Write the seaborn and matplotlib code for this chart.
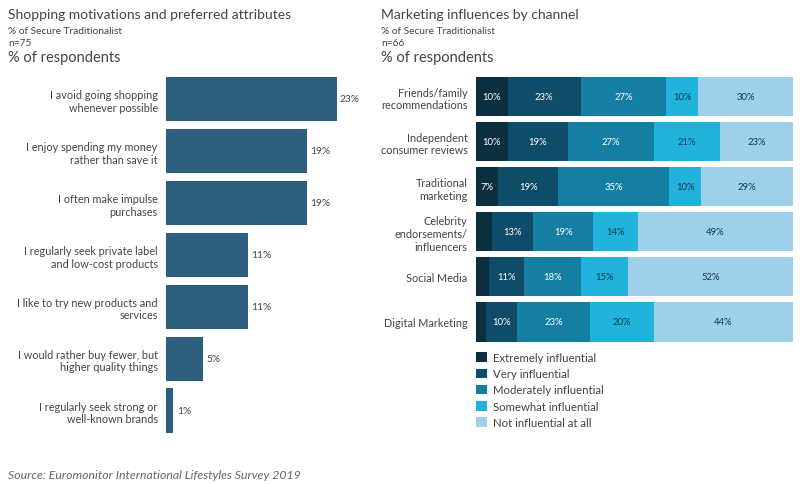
import matplotlib
matplotlib.use("Agg")
import matplotlib.pyplot as plt
from matplotlib.patches import Patch
import numpy as np
import pandas as pd
import seaborn as sns

sns.set_theme(style="white")
plt.rcParams["font.family"] = ["Lato", "DejaVu Sans"]

# ---- Left panel data: shopping motivations ----
motivations = [
    "I avoid going shopping\nwhenever possible",
    "I enjoy spending my money\nrather than save it",
    "I often make impulse\npurchases",
    "I regularly seek private label\nand low-cost products",
    "I like to try new products and\nservices",
    "I would rather buy fewer, but\nhigher quality things",
    "I regularly seek strong or\nwell-known brands",
]
motivation_pct = [23, 19, 19, 11, 11, 5, 1]

# ---- Right panel data: marketing influences by channel ----
channels = [
    "Friends/family\nrecommendations",
    "Independent\nconsumer reviews",
    "Traditional\nmarketing",
    "Celebrity\nendorsements/\ninfluencers",
    "Social Media",
    "Digital Marketing",
]
levels = [
    "Extremely influential",
    "Very influential",
    "Moderately influential",
    "Somewhat influential",
    "Not influential at all",
]
extremely = [10, 10, 7, 5, 4, 3]
very = [23, 19, 19, 13, 11, 10]
moderately = [27, 27, 35, 19, 18, 23]
somewhat = [10, 21, 10, 14, 15, 20]
not_at_all = [30, 23, 29, 49, 52, 44]

level_colors = ["#0c2f40", "#0f4c69", "#157fa3", "#22b3dd", "#9fd0ea"]
label_colors = ["white", "white", "white", "#0c3a52", "#0c3a52"]
bar_color = "#2f5f7e"
text_color = "#444444"

W, H = 811, 485
fig = plt.figure(figsize=(W / 100, H / 100), dpi=100)


def fx(px):
    return px / W


def fy(py):
    return 1 - py / H


# Headers
fig.text(fx(8), fy(15), "Shopping motivations and preferred attributes",
         fontsize=10, color=text_color, va="center")
fig.text(fx(8), fy(31), "% of Secure Traditionalist", fontsize=7.3,
         color=text_color, va="center")
fig.text(fx(8), fy(44), "n=75", fontsize=7.3, color=text_color, va="center")
fig.text(fx(8), fy(58), "% of respondents", fontsize=10.5, color=text_color,
         va="center")

fig.text(fx(381), fy(15), "Marketing influences by channel",
         fontsize=10, color=text_color, va="center")
fig.text(fx(381), fy(31), "% of Secure Traditionalist", fontsize=7.3,
         color=text_color, va="center")
fig.text(fx(381), fy(44), "n=66", fontsize=7.3, color=text_color, va="center")
fig.text(fx(381), fy(58), "% of respondents", fontsize=10.5, color=text_color,
         va="center")

fig.text(fx(8), fy(476),
         "Source: Euromonitor International Lifestyles Survey 2019",
         fontsize=8.8, color="#666666", style="italic", va="center")

# ---- Left panel ----
ax1 = fig.add_axes([fx(166), fy(437.5), fx(185.5), (437.5 - 74) / H])
df1 = pd.DataFrame({"motivation": motivations, "pct": motivation_pct})
sns.barplot(data=df1, x="pct", y="motivation", color=bar_color,
            saturation=1, width=0.85, linewidth=0, ax=ax1)
ax1.set_xlim(0, 25)
ax1.set_ylim(len(motivations) - 0.5, -0.5)
for i, v in enumerate(motivation_pct):
    ax1.text(v + 0.45, i, f"{v}%", va="center", ha="left", fontsize=7.3,
             color=text_color)
ax1.set_xlabel("")
ax1.set_ylabel("")
ax1.set_xticks([])
ax1.tick_params(axis="y", length=0, pad=6, labelsize=7.8,
                labelcolor=text_color)
for lbl in ax1.get_yticklabels():
    lbl.set_horizontalalignment("right")
    lbl.set_multialignment("right")
sns.despine(ax=ax1, left=True, bottom=True)

# ---- Right panel: stacked bars ----
ax2 = fig.add_axes([fx(476), fy(345.5), fx(317), (345.5 - 75) / H])
stack = np.array([extremely, very, moderately, somewhat, not_at_all])
ends = stack.cumsum(axis=0)
starts = ends - stack
df2 = pd.DataFrame({"channel": channels})
for k in range(len(levels) - 1, -1, -1):
    df2["end"] = ends[k]
    sns.barplot(data=df2, x="end", y="channel", color=level_colors[k],
                saturation=1, width=0.87, linewidth=0, ax=ax2)
for k in range(len(levels)):
    for i in range(len(channels)):
        v = stack[k, i]
        if v >= 7:
            ax2.text(starts[k, i] + v / 2, i, f"{v}%", ha="center",
                     va="center", fontsize=6.8, color=label_colors[k])
ax2.set_xlim(0, 100)
ax2.set_ylim(len(channels) - 0.5, -0.5)
ax2.set_xlabel("")
ax2.set_ylabel("")
ax2.set_xticks([])
ax2.tick_params(axis="y", length=0, pad=6, labelsize=7.8,
                labelcolor=text_color)
for lbl in ax2.get_yticklabels():
    lbl.set_horizontalalignment("right")
    lbl.set_multialignment("right")
sns.despine(ax=ax2, left=True, bottom=True)

handles = [Patch(facecolor=c, edgecolor="none") for c in level_colors]
fig.legend(handles, levels, loc="upper left",
           bbox_to_anchor=(fx(466), fy(343)), frameon=False, fontsize=8.2,
           handlelength=0.95, handleheight=0.95, labelspacing=0.45,
           handletextpad=0.5, labelcolor=text_color)

fig.savefig("out.png", dpi=100)
